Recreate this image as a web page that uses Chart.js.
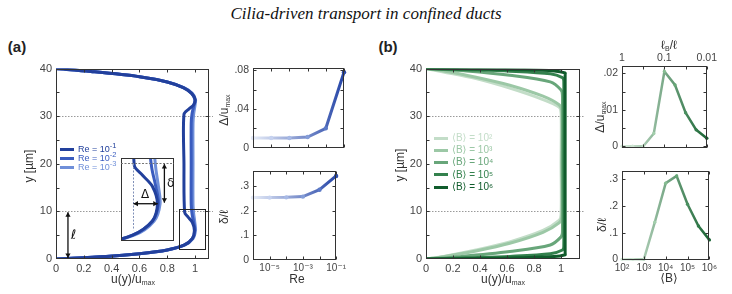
<!DOCTYPE html>
<html lang="en">
<head>
<meta charset="UTF-8">
<title>Cilia-driven transport in confined ducts</title>
<style>
  body { margin: 0; width: 732px; height: 294px; position: relative; overflow: hidden; background: #fff;
         font-family: "Liberation Sans", "DejaVu Sans", Arial, sans-serif; color: #333; }
  canvas { position: absolute; }
  .t { position: absolute; white-space: nowrap; line-height: 1; font-size: 12px; transform: translate(-50%, -50%); }
  .rot { transform: translate(-50%, -50%) rotate(-90deg); }
  .t sub { font-size: 7px; vertical-align: -2px; }
  .leg { position: absolute; font-size: 10px; line-height: 1; white-space: nowrap; transform: translateY(-50%); }
  .leg.sm { font-size: 9px; }
  .leg i { display: inline-block; width: 14px; height: 3px; vertical-align: middle; margin-right: 4px; }
</style>
</head>
<body>

<div class="t" style="left:366px;top:14px;font:italic 17px 'Liberation Serif',serif;color:#111">Cilia-driven transport in confined ducts</div>
<div class="t" style="left:17px;top:46px;font-weight:bold;font-size:15px;color:#222">(a)</div>
<div class="t" style="left:388px;top:46px;font-weight:bold;font-size:15px;color:#222">(b)</div>

<!-- panel (a) -->
<canvas id="aMain" width="188" height="222" style="left:26px;top:58px"></canvas>
<canvas id="aInset" width="53" height="83" style="left:121px;top:158px"></canvas>
<canvas id="aTop" width="120" height="100" style="left:228px;top:58px"></canvas>
<canvas id="aBot" width="120" height="115" style="left:228px;top:161px"></canvas>

<!-- panel (b) -->
<canvas id="bMain" width="188" height="222" style="left:396px;top:58px"></canvas>
<canvas id="bTop" width="122" height="122" style="left:597px;top:36px"></canvas>
<canvas id="bBot" width="122" height="115" style="left:597px;top:161px"></canvas>

<div class="t rot" style="left:29px;top:166px">y [µm]</div>
<div class="t" style="left:133px;top:279px">u(y)/u<sub>max</sub></div>
<div class="t rot" style="left:224px;top:110px">Δ/u<sub>max</sub></div>
<div class="t rot" style="left:224px;top:217px">δ/ℓ</div>
<div class="t" style="left:297px;top:279px">Re</div>

<div class="t rot" style="left:400px;top:165px">y [µm]</div>
<div class="t" style="left:503px;top:279px">u(y)/u<sub>max</sub></div>
<div class="t rot" style="left:600px;top:117px">Δ/u<sub>max</sub></div>
<div class="t rot" style="left:602px;top:225px">δ/ℓ</div>
<div class="t" style="left:669px;top:278px">⟨B⟩</div>
<div class="t" style="left:669px;top:45px">ℓ<sub>B</sub>/ℓ</div>

<div id="legends"></div>

<script src="https://cdn.jsdelivr.net/npm/chart.js"></script>
<script>
// ---- panel (a): velocity profiles for three Re, y in µm ----
const yRe1 = [0, 0.5, 1.1, 1.9, 2.9, 4.3, 6.0, 7.7, 8.8, 9.8, 20, 30.4, 31.5, 32.4, 33.5, 34.8, 36.0, 37.2, 38.3, 39.4, 40];
const uRe1 = [0, 0.36, 0.60, 0.80, 0.92, 0.98, 0.995, 0.98, 0.95, 0.925, 0.92, 0.92, 0.955, 0.99, 1.0, 0.975, 0.915, 0.80, 0.60, 0.25, 0];
const yRe2 = [0, 0.5, 1.1, 1.9, 2.9, 4.3, 6.0, 7.7, 9.5, 11.5, 20, 28.5, 30.5, 32.4, 33.5, 34.8, 36.0, 37.2, 38.3, 39.4, 40];
const uRe2 = [0, 0.36, 0.60, 0.80, 0.92, 0.98, 0.998, 0.99, 0.978, 0.972, 0.972, 0.972, 0.978, 0.992, 0.998, 0.975, 0.915, 0.80, 0.60, 0.25, 0];
const uRe3 = [0, 0.36, 0.60, 0.80, 0.925, 0.985, 1.003, 0.998, 0.99, 0.985, 0.985, 0.985, 0.99, 1.0, 1.003, 0.98, 0.92, 0.80, 0.60, 0.25, 0];
const reNames = ['Re = 10<sup>-1</sup>', 'Re = 10<sup>-2</sup>', 'Re = 10<sup>-3</sup>'];

// Δ/umax and δ/ℓ against Re
const reVals = [1e-6, 1e-5, 1e-4, 1e-3, 1e-2, 1e-1];
const dU_a = [0.010, 0.010, 0.010, 0.011, 0.020, 0.078];
const dL_a = [0.254, 0.254, 0.255, 0.258, 0.286, 0.342];
const reTickVals = [1e-5, 1e-3, 1e-1];
const reTickLabels = ['10⁻⁵', '10⁻³', '10⁻¹'];

// ---- panel (b): velocity profiles for five <B> ----
const yB2 = [0, 0.55, 1.9, 3.6, 6.0, 8.1, 9.3, 20, 30.7, 31.9, 33.5, 35.9, 37.9, 39.3, 40];
const uB2 = [0, 0.13, 0.37, 0.62, 0.866, 0.985, 1.0, 1.0, 1.0, 0.985, 0.866, 0.62, 0.37, 0.13, 0];
const yB3 = [0, 0.5, 1.7, 3.3, 5.6, 7.6, 8.8, 20, 31.2, 32.4, 34.2, 36.5, 38.2, 39.5, 40];
const uB3 = [0, 0.13, 0.37, 0.62, 0.866, 0.985, 1.005, 1.005, 1.005, 0.985, 0.866, 0.62, 0.37, 0.13, 0];
const yB4 = [0, 0.5, 1.56, 2.94, 4.65, 5.6, 20, 34.4, 35.5, 37.2, 38.6, 39.5, 40];
const uB4 = [0, 0.25, 0.62, 0.92, 1.0, 1.01, 1.01, 1.01, 1.0, 0.92, 0.62, 0.3, 0];
const yB5 = [0, 0.25, 0.55, 1.1, 1.9, 2.6, 20, 37.4, 38.1, 38.9, 39.45, 39.75, 40];
const uB5 = [0, 0.3, 0.62, 0.92, 1.01, 1.02, 1.02, 1.02, 1.01, 0.92, 0.62, 0.3, 0];
const yB6 = [0, 0.1, 0.25, 0.5, 0.9, 1.2, 20, 38.8, 39.1, 39.5, 39.75, 39.9, 40];
const uB6 = [0, 0.35, 0.7, 0.95, 1.03, 1.03, 1.03, 1.03, 1.03, 0.95, 0.7, 0.35, 0];
const bNames = ['⟨B⟩ = 10²', '⟨B⟩ = 10³', '⟨B⟩ = 10⁴', '⟨B⟩ = 10⁵', '⟨B⟩ = 10⁶'];

// Δ/umax and δ/ℓ against <B>
const bVals = [100, 316, 1000, 3162, 10000, 31623, 100000, 316228, 1000000];
const dU_b = [0, 0, 0, 0.0035, 0.0205, 0.0168, 0.0092, 0.0045, 0.0022];
const dL_b = [0, 0, 0, 0.139, 0.286, 0.313, 0.207, 0.125, 0.073];
const bTickVals = [100, 1000, 10000, 100000, 1000000];
const bTickLabels = ['10²', '10³', '10⁴', '10⁵', '10⁶'];
const lbTickVals = [100, 10000, 1000000];
const lbTickLabels = ['1', '0.1', '0.01'];

// linear tick labels
const uTickVals = [0, 0.2, 0.4, 0.6, 0.8, 1];
const uTickLabels = ['0', '0.2', '0.4', '0.6', '0.8', '1'];
const yTickVals = [0, 10, 20, 30, 40];
const yTickLabels = ['0', '10', '20', '30', '40'];

const blues = ['#22409c', '#3a5cbf', '#6f8fd9'];
const greens = ['#c3ddc8', '#9cc8a6', '#68a67a', '#33814d', '#105c2c'];
const reDots = ['#e3e9f7', '#c6d2ef', '#a7b9e5', '#849dd8', '#5b79c7', '#2c4bab'];
const bDots = ['#d6e9d9', '#cde4d1', '#bcdcc2', '#a3cfac', '#86bd92', '#66a776', '#4a9160', '#317b4a', '#1b6636'];

const FONT = '"Liberation Sans", "DejaVu Sans", Arial, sans-serif';
Chart.defaults.font.family = FONT;
Chart.defaults.color = '#444';
Chart.defaults.animation = false;
Chart.defaults.plugins.legend.display = false;
Chart.defaults.plugins.tooltip.enabled = false;

// legends
(function () {
  let html = '';
  reNames.forEach((n, i) => {
    html += `<div class="leg sm" style="left:60px;top:${148 + i * 9}px;color:${blues[i]}"><i style="background:${blues[i]}"></i>${n}</div>`;
  });
  bNames.forEach((n, i) => {
    html += `<div class="leg" style="left:434px;top:${138 + i * 12.2}px;color:${greens[i]}"><i style="background:${greens[i]}"></i>${n}</div>`;
  });
  document.getElementById('legends').innerHTML = html;
})();

function pts(xs, ys) { return xs.map((x, i) => ({ x: x, y: ys[i] })); }

function profile(ys, us, color) {
  return { data: pts(us, ys), borderColor: color, borderWidth: 3, showLine: true,
           pointRadius: 0, tension: 0.3, fill: false };
}

function fixed(vals) { return scale => { scale.ticks = vals.map(v => ({ value: v })); }; }

function hGrad(chart, c0, c1) {
  const a = chart.chartArea;
  if (!a) return c1;
  const g = chart.ctx.createLinearGradient(a.left, 0, a.right, 0);
  g.addColorStop(0, c0);
  g.addColorStop(1, c1);
  return g;
}

function arrow(c, x1, y1, x2, y2) {
  const h = 4.5, w = 2.6;
  c.beginPath(); c.moveTo(x1, y1); c.lineTo(x2, y2); c.stroke();
  const t = Math.atan2(y2 - y1, x2 - x1);
  [[x1, y1, t + Math.PI], [x2, y2, t]].forEach(([x, y, a]) => {
    c.beginPath();
    c.moveTo(x, y);
    c.lineTo(x - h * Math.cos(a) + w * Math.sin(a), y - h * Math.sin(a) - w * Math.cos(a));
    c.lineTo(x - h * Math.cos(a) - w * Math.sin(a), y - h * Math.sin(a) + w * Math.cos(a));
    c.closePath(); c.fill();
  });
}

// frame with inward ticks, dotted guide lines and extra drawing
function decor(o) {
  return {
    id: 'decor',
    beforeDatasetsDraw(chart) {
      const c = chart.ctx, a = chart.chartArea;
      c.save();
      if (o.fill) { c.fillStyle = o.fill; c.fillRect(a.left, a.top, a.right - a.left, a.bottom - a.top); }
      (o.dotted || []).forEach(v => {
        const y = Math.round(chart.scales.y.getPixelForValue(v)) + 0.5;
        c.strokeStyle = '#9a9a9a'; c.lineWidth = 1; c.setLineDash([1.5, 1.5]);
        c.beginPath(); c.moveTo(a.left, y); c.lineTo(a.right + (o.ext || 0), y); c.stroke();
      });
      c.restore();
    },
    afterDatasetsDraw(chart) {
      const c = chart.ctx, a = chart.chartArea, sx = chart.scales.x, sy = chart.scales.y;
      const L = Math.round(a.left) + 0.5, R = Math.round(a.right) - 0.5;
      const T = Math.round(a.top) + 0.5, B = Math.round(a.bottom) - 0.5;
      c.save();
      c.strokeStyle = '#333'; c.lineWidth = 1;
      c.beginPath();
      (o.xt || []).forEach(v => {
        const x = Math.round(sx.getPixelForValue(v)) + 0.5;
        c.moveTo(x, B); c.lineTo(x, B - 3); c.moveTo(x, T); c.lineTo(x, T + 3);
      });
      (o.yt || []).forEach(v => {
        const y = Math.round(sy.getPixelForValue(v)) + 0.5;
        c.moveTo(L, y); c.lineTo(L + 3, y); c.moveTo(R, y); c.lineTo(R - 3, y);
      });
      c.stroke();
      c.strokeRect(L, T, R - L, B - T);
      if (o.draw) o.draw(c, sx, sy);
      c.restore();
    }
  };
}

function tickFont(size) { return { family: FONT, size: size }; }

// ---------- (a) main profile plot ----------
const aSets = () => [profile(yRe1, uRe1, blues[0]), profile(yRe2, uRe2, blues[1]), profile(yRe2, uRe3, blues[2])];

new Chart(document.getElementById('aMain'), {
  type: 'scatter',
  data: { datasets: aSets() },
  options: {
    responsive: false,
    layout: { padding: { top: 7, right: 5, left: 0, bottom: 0 } },
    scales: {
      x: { type: 'linear', min: 0, max: 1.1, grid: { display: false, drawTicks: false }, border: { display: false },
           afterBuildTicks: fixed(uTickVals), afterFit: s => { s.height = 21; },
           ticks: { callback: (v, i) => uTickLabels[i], font: tickFont(11), padding: 3, autoSkip: false, maxRotation: 0 } },
      y: { type: 'linear', min: 0, max: 40, grid: { display: false, drawTicks: false }, border: { display: false },
           afterBuildTicks: fixed(yTickVals), afterFit: s => { s.width = 30; },
           ticks: { callback: (v, i) => yTickLabels[i], font: tickFont(11), padding: 4, autoSkip: false } }
    }
  },
  plugins: [decor({
    xt: uTickVals, yt: [5, 10, 15, 20, 25, 30, 35], dotted: [10, 30], ext: 4,
    draw(c, sx, sy) {
      // box marking the zoomed region
      c.strokeStyle = '#222';
      const x0 = sx.getPixelForValue(0.887), x1 = sx.getPixelForValue(1.077);
      const y0 = sy.getPixelForValue(10.49), y1 = sy.getPixelForValue(2.06);
      c.strokeRect(Math.round(x0) + 0.5, Math.round(y0) + 0.5, Math.round(x1 - x0), Math.round(y1 - y0));
      // channel half-height arrow
      c.fillStyle = '#111'; c.strokeStyle = '#111'; c.lineWidth = 1.3;
      const xa = sx.getPixelForValue(0.086);
      arrow(c, xa, sy.getPixelForValue(9.8), xa, sy.getPixelForValue(0.2));
      c.font = '13px "DejaVu Sans", sans-serif';
      c.textAlign = 'center'; c.textBaseline = 'middle';
      c.fillText('ℓ', sx.getPixelForValue(0.125), sy.getPixelForValue(5));
    }
  })]
});

// ---------- (a) inset ----------
new Chart(document.getElementById('aInset'), {
  type: 'scatter',
  data: { datasets: aSets().map(d => Object.assign(d, { clip: 0 })) },
  options: {
    responsive: false,
    layout: { padding: 0 },
    scales: {
      x: { type: 'linear', min: 0.885, max: 1.045, display: false },
      y: { type: 'linear', min: 2.33, max: 10.5, display: false }
    }
  },
  plugins: [decor({
    fill: '#fff',
    draw(c, sx, sy) {
      c.save();
      c.strokeStyle = '#777'; c.lineWidth = 1; c.setLineDash([2, 1.5]);
      const yd = Math.round(sy.getPixelForValue(10)) + 0.5;
      c.beginPath(); c.moveTo(sx.left, yd); c.lineTo(sx.right, yd); c.stroke();
      c.strokeStyle = '#8090b8';
      const xd = Math.round(sx.getPixelForValue(0.922)) + 0.5;
      c.beginPath(); c.moveTo(xd, yd); c.lineTo(xd, sy.getPixelForValue(3.4)); c.stroke();
      c.restore();
      c.fillStyle = '#111'; c.strokeStyle = '#111'; c.lineWidth = 1.3;
      arrow(c, xd, sy.getPixelForValue(6), sx.getPixelForValue(0.996), sy.getPixelForValue(6));
      const xv = sx.getPixelForValue(1.016);
      arrow(c, xv, sy.getPixelForValue(9.9), xv, sy.getPixelForValue(6.1));
      c.font = '12px "DejaVu Sans", sans-serif';
      c.textAlign = 'center'; c.textBaseline = 'middle';
      c.fillText('Δ', sx.getPixelForValue(0.958), sy.getPixelForValue(6.9));
      c.fillText('δ', sx.getPixelForValue(1.035), sy.getPixelForValue(8.0));
    }
  })]
});

// ---------- (a) Δ/umax vs Re ----------
function smallSet(xs, ys, dots, c0, c1, r, w) {
  return { data: pts(xs, ys), showLine: true, borderWidth: w, tension: 0, clip: false,
           borderColor: ctx => hGrad(ctx.chart, c0, c1),
           pointRadius: r, pointBorderWidth: 0, pointBackgroundColor: dots };
}

const reTicksAll = [1e-6, 1e-5, 1e-4, 1e-3, 1e-2, 1e-1];

new Chart(document.getElementById('aTop'), {
  type: 'scatter',
  data: { datasets: [smallSet(reVals, dU_a, reDots, '#e6ecf8', '#2646a8', 2.2, 3)] },
  options: {
    responsive: false,
    layout: { padding: { top: 7, right: 4, left: 0, bottom: 0 } },
    scales: {
      x: { type: 'logarithmic', min: 1e-6, max: 1e-1, display: false },
      y: { type: 'linear', min: 0, max: 0.082, grid: { display: false, drawTicks: false }, border: { display: false },
           afterBuildTicks: fixed([0, 0.04, 0.08]), afterFit: s => { s.width = 25; },
           ticks: { callback: (v, i) => ['0', '.04', '.08'][i], font: tickFont(10.5), padding: 4 } }
    }
  },
  plugins: [decor({ xt: reTicksAll, yt: [0.02, 0.04, 0.06, 0.08] })]
});

new Chart(document.getElementById('aBot'), {
  type: 'scatter',
  data: { datasets: [smallSet(reVals, dL_a, reDots, '#e6ecf8', '#2646a8', 2.2, 3)] },
  options: {
    responsive: false,
    layout: { padding: { top: 7, right: 4, left: 0, bottom: 0 } },
    scales: {
      x: { type: 'logarithmic', min: 1e-6, max: 1e-1, grid: { display: false, drawTicks: false }, border: { display: false },
           afterBuildTicks: fixed(reTickVals), afterFit: s => { s.height = 16; },
           ticks: { callback: (v, i) => reTickLabels[i], font: tickFont(10), padding: 2, autoSkip: false, maxRotation: 0 } },
      y: { type: 'linear', min: 0, max: 0.361, grid: { display: false, drawTicks: false }, border: { display: false },
           afterBuildTicks: fixed([0, 0.1, 0.2, 0.3]), afterFit: s => { s.width = 25; },
           ticks: { callback: (v, i) => ['0', '.1', '.2', '.3'][i], font: tickFont(10.5), padding: 4 } }
    }
  },
  plugins: [decor({ xt: reTicksAll, yt: [0.1, 0.2, 0.3] })]
});

// ---------- (b) main profile plot ----------
new Chart(document.getElementById('bMain'), {
  type: 'scatter',
  data: { datasets: [
    profile(yB6, uB6, greens[4]), profile(yB5, uB5, greens[3]), profile(yB4, uB4, greens[2]),
    profile(yB3, uB3, greens[1]), profile(yB2, uB2, greens[0])
  ] },
  options: {
    responsive: false,
    layout: { padding: { top: 7, right: 4, left: 0, bottom: 0 } },
    scales: {
      x: { type: 'linear', min: 0, max: 1.14, grid: { display: false, drawTicks: false }, border: { display: false },
           afterBuildTicks: fixed(uTickVals), afterFit: s => { s.height = 21; },
           ticks: { callback: (v, i) => uTickLabels[i], font: tickFont(11), padding: 3, autoSkip: false, maxRotation: 0 } },
      y: { type: 'linear', min: 0, max: 40, grid: { display: false, drawTicks: false }, border: { display: false },
           afterBuildTicks: fixed(yTickVals), afterFit: s => { s.width = 30; },
           ticks: { callback: (v, i) => yTickLabels[i], font: tickFont(11), padding: 4, autoSkip: false } }
    }
  },
  plugins: [decor({ xt: uTickVals, yt: [5, 10, 15, 20, 25, 30, 35], dotted: [10, 30], ext: 4 })]
});

// ---------- (b) Δ/umax vs <B>, with ℓB/ℓ on top ----------
new Chart(document.getElementById('bTop'), {
  type: 'scatter',
  data: { datasets: [Object.assign(smallSet(bVals, dU_b, bDots, '#d8ebdb', '#1a6634', 1.7, 2.5), { xAxisID: 'x', yAxisID: 'y' })] },
  options: {
    responsive: false,
    layout: { padding: { top: 0, right: 2, left: 0, bottom: 0 } },
    scales: {
      x: { type: 'logarithmic', min: 100, max: 1e6, display: false },
      x2: { type: 'logarithmic', position: 'top', min: 100, max: 1e6, grid: { display: false, drawTicks: false }, border: { display: false },
            afterBuildTicks: fixed(lbTickVals), afterFit: s => { s.height = 30; },
            ticks: { callback: (v, i) => lbTickLabels[i], font: tickFont(10.5), padding: 2, autoSkip: false, maxRotation: 0 } },
      y: { type: 'linear', min: -0.0004, max: 0.022, grid: { display: false, drawTicks: false }, border: { display: false },
           afterBuildTicks: fixed([0, 0.01, 0.02]), afterFit: s => { s.width = 25; },
           ticks: { callback: (v, i) => ['0', '.01', '.02'][i], font: tickFont(10.5), padding: 4 } }
    }
  },
  plugins: [decor({ xt: bTickVals, yt: [0, 0.005, 0.01, 0.015, 0.02] })]
});

new Chart(document.getElementById('bBot'), {
  type: 'scatter',
  data: { datasets: [smallSet(bVals, dL_b, bDots, '#d8ebdb', '#1a6634', 1.7, 2.5)] },
  options: {
    responsive: false,
    layout: { padding: { top: 7, right: 2, left: 0, bottom: 0 } },
    scales: {
      x: { type: 'logarithmic', min: 100, max: 1e6, grid: { display: false, drawTicks: false }, border: { display: false },
           afterBuildTicks: fixed(bTickVals), afterFit: s => { s.height = 16; },
           ticks: { callback: (v, i) => bTickLabels[i], font: tickFont(10), padding: 2, autoSkip: false, maxRotation: 0 } },
      y: { type: 'linear', min: -0.0025, max: 0.3305, grid: { display: false, drawTicks: false }, border: { display: false },
           afterBuildTicks: fixed([0, 0.1, 0.2, 0.3]), afterFit: s => { s.width = 25; },
           ticks: { callback: (v, i) => ['0', '.1', '.2', '.3'][i], font: tickFont(10.5), padding: 4 } }
    }
  },
  plugins: [decor({ xt: bTickVals, yt: [0.1, 0.2, 0.3] })]
});
</script>
</body>
</html>
